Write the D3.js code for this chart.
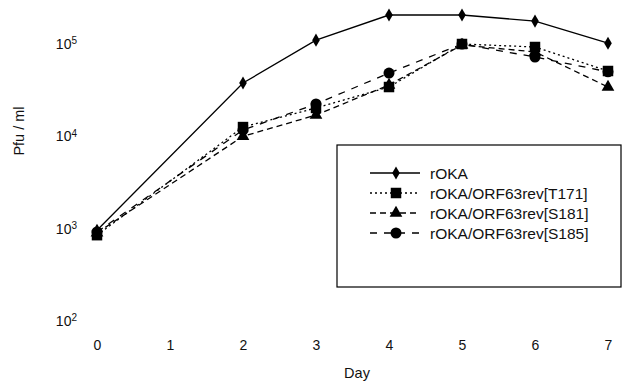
<!DOCTYPE html>
<html>
<head>
<meta charset="utf-8">
<script src="https://cdn.jsdelivr.net/npm/d3@7"></script>
<style>
  body { margin: 0; background: #fff; }
  text { font-family: "Liberation Sans", Arial, sans-serif; fill: #111; }
</style>
</head>
<body>
<svg id="chart"></svg>
<script>
const width = 624;
const height = 390;

// days sampled (no sample on day 1)
const days = [0, 2, 3, 4, 5, 6, 7];
const dayTicks = [0, 1, 2, 3, 4, 5, 6, 7];
const yTicks = [100, 1000, 10000, 100000];

const rOKA = [960, 37800, 110000, 206000, 206000, 177000, 102000];
const t171 = [850, 12600, 20300, 34200, 100000, 92800, 51000];
const s181 = [900, 10000, 17000, 36000, 97500, 82000, 34200];
const s185 = [920, 11700, 22400, 48500, 100000, 72300, 50000];

const seriesNames = ['rOKA', 'rOKA/ORF63rev[T171]', 'rOKA/ORF63rev[S181]', 'rOKA/ORF63rev[S185]'];
const seriesValues = [rOKA, t171, s181, s185];
const dashes = [null, '2,3', '6,4', '7,7'];
const symbols = [d3.symbolDiamond, d3.symbolSquare, d3.symbolTriangle, d3.symbolCircle];
const symbolSizes = [50, 110, 70, 95];

const svg = d3.select('#chart')
    .attr('width', width)
    .attr('height', height);

const x = d3.scaleLinear().domain([0, 7]).range([97, 608]);
const y = d3.scaleLog().domain([100, 100000]).range([321, 44]);

// x axis: labels only
const xAxis = svg.append('g')
    .attr('transform', 'translate(0,335)')
    .call(d3.axisBottom(x).tickValues(dayTicks).tickSize(0).tickPadding(5).tickFormat(d3.format('d')));
xAxis.select('.domain').remove();
xAxis.selectAll('text').attr('font-size', 14).attr('font-family', null).attr('fill', '#111');

// y axis: 10^n labels
const yAxis = svg.append('g')
    .attr('transform', 'translate(80,0)')
    .call(d3.axisLeft(y).tickValues(yTicks).tickSize(0).tickPadding(3).tickFormat(() => ''));
yAxis.select('.domain').remove();
yAxis.selectAll('text')
    .attr('font-size', 14)
    .attr('font-family', null)
    .attr('fill', '#111')
    .each(function(d) {
        const t = d3.select(this);
        t.append('tspan').text('10');
        t.append('tspan')
            .attr('dy', '-0.45em')
            .attr('font-size', 10)
            .text(Math.round(Math.log10(d)));
    });

svg.append('text')
    .attr('transform', 'translate(24,131) rotate(-90)')
    .attr('text-anchor', 'middle')
    .attr('font-size', 14.5)
    .text('Pfu / ml');

svg.append('text')
    .attr('x', 357)
    .attr('y', 378)
    .attr('text-anchor', 'middle')
    .attr('font-size', 14.5)
    .text('Day');

const line = d3.line()
    .x((d, i) => x(days[i]))
    .y(d => y(d));

const plot = svg.append('g');

seriesValues.forEach((vals, k) => {
    plot.append('path')
        .datum(vals)
        .attr('fill', 'none')
        .attr('stroke', '#000')
        .attr('stroke-width', 1.3)
        .attr('stroke-dasharray', dashes[k])
        .attr('d', line);

    plot.selectAll(null)
        .data(vals)
        .enter().append('path')
        .attr('transform', (d, i) => `translate(${x(days[i])},${y(d)})`)
        .attr('d', d3.symbol().type(symbols[k]).size(symbolSizes[k]))
        .attr('fill', '#000');
});

// legend
const legend = svg.append('g');
legend.append('rect')
    .attr('x', 337)
    .attr('y', 145)
    .attr('width', 284)
    .attr('height', 142)
    .attr('fill', '#fff')
    .attr('stroke', '#000')
    .attr('stroke-width', 1.2);

seriesNames.forEach((name, k) => {
    const ly = 173 + k * 20;
    legend.append('line')
        .attr('x1', 370).attr('x2', 420)
        .attr('y1', ly).attr('y2', ly)
        .attr('stroke', '#000')
        .attr('stroke-width', 1.3)
        .attr('stroke-dasharray', dashes[k]);
    legend.append('path')
        .attr('transform', `translate(396,${ly})`)
        .attr('d', d3.symbol().type(symbols[k]).size(symbolSizes[k]))
        .attr('fill', '#000');
    legend.append('text')
        .attr('x', 430)
        .attr('y', ly)
        .attr('dy', '0.36em')
        .attr('font-size', 15.5)
        .text(name);
});
</script>
</body>
</html>
